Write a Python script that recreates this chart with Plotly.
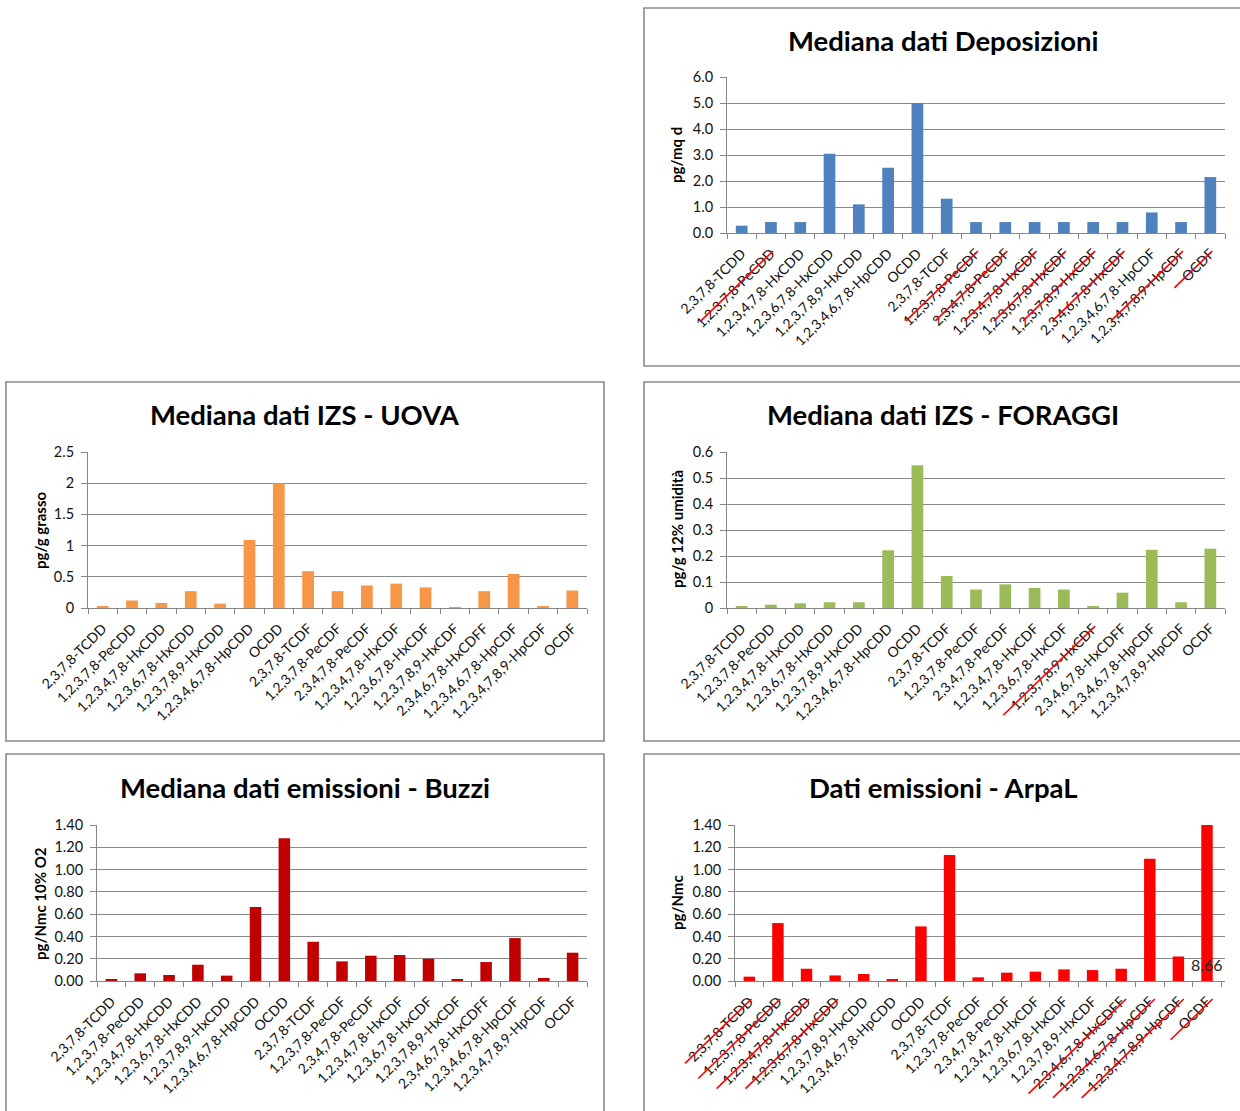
import plotly.graph_objects as go

# ---- data -------------------------------------------------------------
congeners_dep = [
    "2,3,7,8-TCDD", "1,2,3,7,8-PeCDD", "1,2,3,4,7,8-HxCDD", "1,2,3,6,7,8-HxCDD",
    "1,2,3,7,8,9-HxCDD", "1,2,3,4,6,7,8-HpCDD", "OCDD", "2,3,7,8-TCDF",
    "1,2,3,7,8-PeCDF", "2,3,4,7,8-PeCDF", "1,2,3,4,7,8-HxCDF", "1,2,3,6,7,8-HxCDF",
    "1,2,3,7,8,9-HxCDF", "2,3,4,6,7,8-HxCDF", "1,2,3,4,6,7,8-HpCDF",
    "1,2,3,4,7,8,9-HpCDF", "OCDF",
]
congeners = [
    "2,3,7,8-TCDD", "1,2,3,7,8-PeCDD", "1,2,3,4,7,8-HxCDD", "1,2,3,6,7,8-HxCDD",
    "1,2,3,7,8,9-HxCDD", "1,2,3,4,6,7,8-HpCDD", "OCDD", "2,3,7,8-TCDF",
    "1,2,3,7,8-PeCDF", "2,3,4,7,8-PeCDF", "1,2,3,4,7,8-HxCDF", "1,2,3,6,7,8-HxCDF",
    "1,2,3,7,8,9-HxCDF", "2,3,4,6,7,8-HxCDFF", "1,2,3,4,6,7,8-HpCDF",
    "1,2,3,4,7,8,9-HpCDF", "OCDF",
]

deposizioni = [0.28, 0.42, 0.42, 3.05, 1.10, 2.51, 5.00, 1.32, 0.42, 0.42,
               0.42, 0.42, 0.42, 0.42, 0.79, 0.42, 2.15]
uova = [0.03, 0.12, 0.08, 0.27, 0.07, 1.09, 2.00, 0.59, 0.27, 0.36,
        0.39, 0.33, 0.015, 0.27, 0.545, 0.03, 0.28]
foraggi = [0.004, 0.013, 0.018, 0.022, 0.022, 0.222, 0.549, 0.123, 0.071, 0.091,
           0.077, 0.071, 0.004, 0.059, 0.224, 0.022, 0.228]
buzzi = [0.015, 0.069, 0.054, 0.146, 0.048, 0.663, 1.28, 0.352, 0.176, 0.227,
         0.233, 0.200, 0.012, 0.170, 0.385, 0.027, 0.254]
arpal = [0.039, 0.52, 0.11, 0.05, 0.063, 0.018, 0.49, 1.13, 0.033, 0.075,
         0.084, 0.104, 0.098, 0.11, 1.096, 0.22, 8.66]

# congeners crossed out in each panel
struck_dep = [1, 8, 9, 10, 11, 12, 13, 15, 16]
struck_foraggi = [12]
struck_arpal = [0, 1, 2, 3, 13, 14, 15, 16]

# ---- page geometry (pixels) -------------------------------------------
W, H = 1240, 1111
FONT = "Lato, 'Open Sans', sans-serif"


def fx(x):
    return x / W


def fy(y):
    return 1 - y / H


# strike: (per-char length, minimum length, maximum length) of the pen marks
panels = [
    dict(title="Mediana dati Deposizioni", ytitle="pg/mq d", cats=congeners_dep,
         vals=deposizioni, color="#4F81BD", xpx=(727, 1225), ypx=(77, 233),
         yrange=(0, 6), dtick=1, fmt=".1f", box=(644, 8, 1243, 366),
         tc=(943, 40), yt=(676, 155), struck=struck_dep, stroke=(5.2, 38, 72)),
    dict(title="Mediana dati IZS - UOVA", ytitle="pg/g grasso", cats=congeners,
         vals=uova, color="#F79646", xpx=(88, 587), ypx=(452, 608),
         yrange=(0, 2.5), dtick=0.5, fmt="", box=(6, 382, 604, 741),
         tc=(305, 414), yt=(40, 530), struck=[], stroke=(0, 0, 0)),
    dict(title="Mediana dati IZS - FORAGGI", ytitle="pg/g 12% umidità", cats=congeners,
         vals=foraggi, color="#9BBB59", xpx=(727, 1225), ypx=(452, 608),
         yrange=(0, 0.6), dtick=0.1, fmt="", box=(644, 382, 1243, 741),
         tc=(943, 414), yt=(677, 529), struck=struck_foraggi, stroke=(5.4, 42, 92)),
    dict(title="Mediana dati emissioni - Buzzi", ytitle="pg/Nmc 10% O2", cats=congeners,
         vals=buzzi, color="#C00000", xpx=(97, 587), ypx=(825, 981),
         yrange=(0, 1.4), dtick=0.2, fmt=".2f", box=(6, 754, 604, 1115),
         tc=(305, 787), yt=(40, 904), struck=[], stroke=(0, 0, 0)),
    dict(title="Dati emissioni - ArpaL", ytitle="pg/Nmc", cats=congeners,
         vals=arpal, color="#FF0000", xpx=(735, 1225), ypx=(825, 981),
         yrange=(0, 1.4), dtick=0.2, fmt=".2f", box=(644, 754, 1243, 1115),
         tc=(943, 787), yt=(677, 903), struck=struck_arpal, stroke=(5.2, 42, 102)),
]

fig = go.Figure()
shapes, annotations = [], []

for i, p in enumerate(panels, start=1):
    sfx = "" if i == 1 else str(i)
    fig.add_trace(go.Bar(
        x=p["cats"], y=p["vals"], marker=dict(color=p["color"], line=dict(width=0)),
        xaxis="x" + sfx, yaxis="y" + sfx, showlegend=False,
    ))
    x0, x1 = p["xpx"]
    ytop, ybot = p["ypx"]
    fig.layout["xaxis" + sfx] = dict(
        domain=[fx(x0), fx(x1)], anchor="y" + sfx, type="category",
        tickangle=-45, tickson="boundaries", ticks="outside", ticklen=5,
        ticklabelstandoff=6,
        tickcolor="#868686", showline=True, linecolor="#868686", linewidth=1,
        showgrid=False, zeroline=False, fixedrange=True, automargin=False,
        tickfont=dict(family=FONT, size=14, color="#111111"),
    )
    fig.layout["yaxis" + sfx] = dict(
        domain=[fy(ybot), fy(ytop)], anchor="x" + sfx, range=list(p["yrange"]),
        dtick=p["dtick"], tick0=0, tickformat=p["fmt"], ticks="outside", ticklen=6,
        ticklabelstandoff=4,
        tickcolor="#868686", showline=True, linecolor="#868686", linewidth=1,
        showgrid=True, gridcolor="#8a8a8a", gridwidth=1, zeroline=False,
        fixedrange=True, automargin=False,
        tickfont=dict(family=FONT, size=14.5, color="#111111"),
    )

    # chart frame
    bx0, by0, bx1, by1 = p["box"]
    shapes.append(dict(type="rect", xref="paper", yref="paper",
                       x0=fx(bx0), x1=fx(bx1), y0=fy(by1), y1=fy(by0),
                       line=dict(color="#8a8a8a", width=1.6), fillcolor="rgba(0,0,0,0)",
                       layer="below"))
    # chart title
    annotations.append(dict(text="<b>%s</b>" % p["title"], xref="paper", yref="paper",
                            x=fx(p["tc"][0]), y=fy(p["tc"][1]), showarrow=False,
                            xanchor="center", yanchor="middle",
                            font=dict(family=FONT, size=27.5, color="#000000")))
    # value-axis title
    annotations.append(dict(text="<b>%s</b>" % p["ytitle"], xref="paper", yref="paper",
                            x=fx(p["yt"][0]), y=fy(p["yt"][1]), showarrow=False,
                            textangle=-90, xanchor="center", yanchor="middle",
                            font=dict(family=FONT, size=15, color="#000000")))

    # hand-drawn strike-through marks across excluded congener labels
    n = len(p["cats"])
    step = (x1 - x0) / n
    per_char, lo, hi = p["stroke"]
    for k in p["struck"]:
        xc = x0 + step * (k + 0.5)
        label = p["cats"][k]
        d = min(hi, max(lo, per_char * len(label) + 4))
        ex, ey = xc + 2, ybot + 18
        sx, sy = ex - d, ey + d * 0.97
        shapes.append(dict(type="line", xref="paper", yref="paper",
                           x0=fx(sx), y0=fy(sy), x1=fx(ex), y1=fy(ey),
                           line=dict(color="#FF0000", width=1.6)))

# data label of the clipped OCDF bar in the ArpaL panel
annotations.append(dict(text="%.2f" % arpal[-1], xref="x5", yref="y5",
                        x=congeners[-1], y=0.15, showarrow=False,
                        xanchor="center", yanchor="middle",
                        font=dict(family=FONT, size=16, color="#262626")))

fig.update_layout(
    width=W, height=H, margin=dict(l=0, r=0, t=0, b=0, autoexpand=False),
    paper_bgcolor="white", plot_bgcolor="white",
    bargap=0.6, shapes=shapes, annotations=annotations,
    font=dict(family=FONT),
)

fig.write_html("out.html", config={"displayModeBar": False})
